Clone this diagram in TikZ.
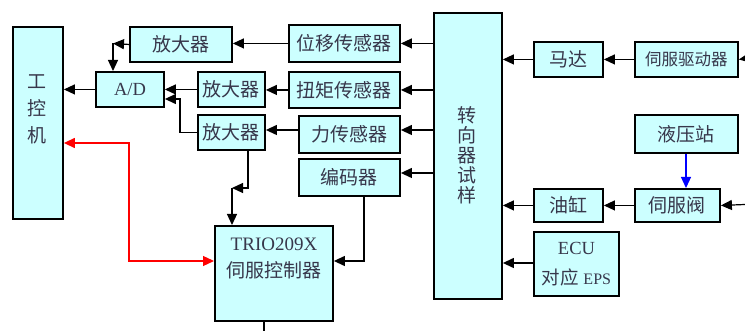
\documentclass[tikz,border=0pt]{standalone}
\usepackage{fontspec}
\setmainfont{Liberation Serif}
\newfontfamily\cjk{Noto Sans CJK SC}
\usetikzlibrary{arrows.meta}
\definecolor{boxfill}{RGB}{204,255,255}
\definecolor{txt}{RGB}{55,55,75}
\begin{document}
\begin{tikzpicture}[x=1pt,y=-1pt,
  box/.style={draw=black, line width=1.9pt, fill=boxfill, inner sep=0pt, anchor=north west,
    text=txt, font=\cjk\fontsize{19}{20}\selectfont},
  lbl/.style={inner sep=0pt, text=txt, align=center},
  tip/.style={},
  conn/.style={line width=1.2pt, -{Triangle[length=11pt,width=10pt]}},
  red conn/.style={line width=1.3pt, draw=red, {Triangle[length=11pt,width=10pt]}-{Triangle[length=11pt,width=10pt]}},
  blue conn/.style={line width=1.2pt, draw=blue, -{Triangle[length=11pt,width=10pt]}, blue},
  plain/.style={line width=1.2pt}]
\useasboundingbox (0,0) rectangle (745,331);
% boxes
\node[box, minimum width=50pt, minimum height=192pt] (gkj) at (12,26) {};
\node[lbl, font=\cjk\fontsize{19}{27}\selectfont] (gkjt) at (37,109) {工\\控\\机};
\node[box, minimum width=102pt, minimum height=35pt] (amp1) at (129,26) {放大器};
\node[box, minimum width=68pt, minimum height=35pt, font=\fontsize{18.5}{20}\selectfont] (ad) at (95,71) {A/D};
\node[box, minimum width=67pt, minimum height=35pt] (amp2) at (197,71) {放大器};
\node[box, minimum width=67pt, minimum height=35pt] (amp3) at (197,114) {放大器};
\node[box, minimum width=111pt, minimum height=37pt] (wy) at (288,24) {位移传感器};
\node[box, minimum width=111pt, minimum height=36pt] (nj) at (288,71) {扭矩传感器};
\node[box, minimum width=101pt, minimum height=37pt] (li) at (298,115) {力传感器};
\node[box, minimum width=101pt, minimum height=37pt] (bm) at (298,158) {编码器};
\node[box, minimum width=118pt, minimum height=95pt] (trio) at (214,225) {};
\node[lbl, font=\fontsize{19}{27}\selectfont] (triot) at (274,258) {TRIO209X\\{\cjk 伺服控制器}};
\node[box, minimum width=68pt, minimum height=286pt] (zx) at (433,12) {};
\node[lbl, font=\cjk\fontsize{19}{20}\selectfont] (zxt) at (467,155) {转\\向\\器\\试\\样};
\node[box, minimum width=69pt, minimum height=35pt] (md) at (533,41) {马达};
\node[box, minimum width=103pt, minimum height=35pt, font=\cjk\fontsize{16.5}{18}\selectfont] (sfq) at (634,41) {伺服驱动器};
\node[box, minimum width=103pt, minimum height=38pt] (yyz) at (634,114) {液压站};
\node[box, minimum width=69pt, minimum height=33pt] (yg) at (533,188) {油缸};
\node[box, minimum width=85pt, minimum height=33pt] (sff) at (634,188) {伺服阀};
\node[box, minimum width=85pt, minimum height=64pt, align=center, font=\fontsize{18.5}{30}\selectfont] (ecu) at (533,231) {ECU\\{\cjk 对应} {\fontsize{16}{16}\selectfont EPS}};
% free-end coordinates
\coordinate (c1) at (113,43.5);
\coordinate (c2) at (180,99);
\coordinate (c3) at (248,188);
\coordinate (c4) at (232,188);
\coordinate (c5) at (364,261);
\coordinate (r1) at (129,143);
\coordinate (r2) at (129,261);
\coordinate (e1) at (745,58.5);
\coordinate (e2) at (745,204.5);
\coordinate (e3) at (264,331);
% connectors left part
\draw[conn] (amp1.west) -- (c1);
\draw[conn] (c1) -- (c1 |- ad.north);
\draw[conn] (ad.west) -- (ad.west -| gkj.east);
\draw[conn] (amp2.west) -- (amp2.west -| ad.east);
\draw[conn] (amp3.west) -| (c2) -- (c2 -| ad.east);
\draw[conn] (amp3.south -| c3) -- (c3) -- (c4);
\draw[conn] (c4) -- (c4 |- trio.north);
\draw[conn] (wy.west) -- (wy.west -| amp1.east);
\draw[conn] (nj.west) -- (nj.west -| amp2.east);
\draw[conn] (li.west |- 0,130) -- (amp3.east |- 0,130);
\draw[conn] (bm.south -| c5) -- (c5) -- (c5 -| trio.east);
\draw[red conn] (gkj.east |- r1) -- (r1) -- (r2) -- (r2 -| trio.west);
\draw[plain] (trio.south -| e3) -- (e3);
% steering sample to sensors
\draw[conn] (zx.west |- wy.east) -- (wy.east);
\draw[conn] (zx.west |- nj.east) -- (nj.east);
\draw[conn] (zx.west |- 0,130) -- (li.east |- 0,130);
\draw[conn] (zx.west |- 0,173) -- (bm.east |- 0,173);
% right part
\draw[conn] (e1) -- (sfq.east);
\draw[conn] (sfq.west) -- (md.east);
\draw[conn] (md.west) -- (md.west -| zx.east);
\draw[blue conn] (yyz.south -| 686,0) -- (sff.north -| 686,0);
\draw[conn] (e2) -- (sff.east);
\draw[conn] (sff.west) -- (yg.east);
\draw[conn] (yg.west) -- (yg.west -| zx.east);
\draw[conn] (ecu.west |- 0,263) -- (zx.east |- 0,263);
\end{tikzpicture}
\end{document}
